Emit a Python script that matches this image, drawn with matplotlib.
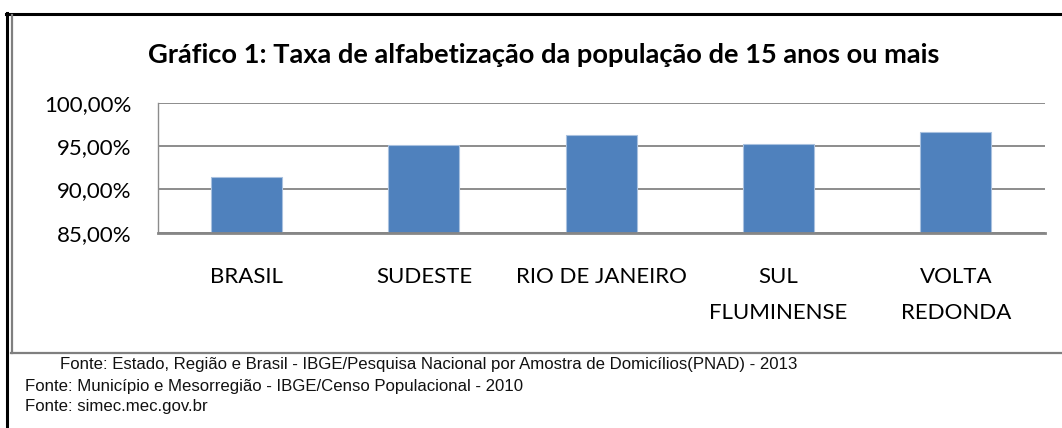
import matplotlib.pyplot as plt
from matplotlib.lines import Line2D
from matplotlib.ticker import FuncFormatter, FixedLocator

categorias = ["BRASIL", "SUDESTE", "RIO DE JANEIRO", "SUL\nFLUMINENSE", "VOLTA\nREDONDA"]
taxas = [0.9147, 0.9516, 0.9623, 0.9528, 0.9666]
ticks_y = [0.85, 0.90, 0.95, 1.00]
titulo = "Gráfico 1: Taxa de alfabetização da população de 15 anos ou mais"
fontes = [
    "Fonte: Estado, Região e Brasil - IBGE/Pesquisa Nacional por Amostra de Domicílios(PNAD) - 2013",
    "Fonte: Município e Mesorregião - IBGE/Censo Populacional - 2010",
    "Fonte: simec.mec.gov.br",
]

W, H = 1062, 428
fig = plt.figure(figsize=(W / 100, H / 100), dpi=100)
fig.patch.set_facecolor("white")


def fx(px):
    return px / W


def fy(py):
    return 1 - py / H


# caixa do gráfico
fig.add_artist(Line2D([fx(7), fx(7)], [fy(13), 0], color="black", lw=2.2, transform=fig.transFigure))
fig.add_artist(Line2D([fx(6), 1], [fy(14), fy(14)], color="black", lw=2.2, transform=fig.transFigure))
fig.add_artist(Line2D([fx(11.5), fx(11.5)], [fy(15), fy(352.5)], color="#7f7f7f", lw=1.6, transform=fig.transFigure))
fig.add_artist(Line2D([fx(11), 1], [fy(352.5), fy(352.5)], color="#7f7f7f", lw=1.6, transform=fig.transFigure))

ax = fig.add_axes([fx(158), fy(232.7), fx(1044.5) - fx(158), fy(102.7) - fy(232.7)])
x = range(len(categorias))
ax.bar(x, taxas, width=0.4, color="#4f81bd", edgecolor="#a9c1df", linewidth=0.8, zorder=3)
ax.set_xlim(-0.5, len(categorias) - 0.5)
ax.set_ylim(0.85, 1.0)
ax.yaxis.set_major_locator(FixedLocator(ticks_y))
ax.yaxis.set_major_formatter(FuncFormatter(lambda v, p: f"{v * 100:.2f}%".replace(".", ",")))
ax.grid(axis="y", color="#8c8c8c", lw=1.4, zorder=0)
ax.set_axisbelow(True)

for s in ["top", "right"]:
    ax.spines[s].set_visible(False)
ax.spines["left"].set_color("#8c8c8c")
ax.spines["left"].set_linewidth(1.0)
ax.spines["bottom"].set_color("#868686")
ax.spines["bottom"].set_linewidth(2.0)
ax.spines["bottom"].set_zorder(4)

ax.set_xticks(list(x))
ax.set_xticklabels(categorias, family="Lato", fontsize=16, linespacing=1.95)
ax.tick_params(axis="x", length=0, pad=25)
ax.tick_params(axis="y", length=0, pad=19, labelsize=16)
for t in ax.get_yticklabels():
    t.set_family("Lato")

fig.text(fx(544), fy(55), titulo, ha="center", va="center", family="Lato",
         fontweight="bold", fontsize=19.6)

linhas_x = [60, 25, 25]
linhas_y = [365, 386, 407]
for txt, px, py in zip(fontes, linhas_x, linhas_y):
    fig.text(fx(px), fy(py), txt, ha="left", va="center", family="Liberation Sans",
             fontsize=12.1, color="#111111")

fig.savefig("out.png", dpi=100)
